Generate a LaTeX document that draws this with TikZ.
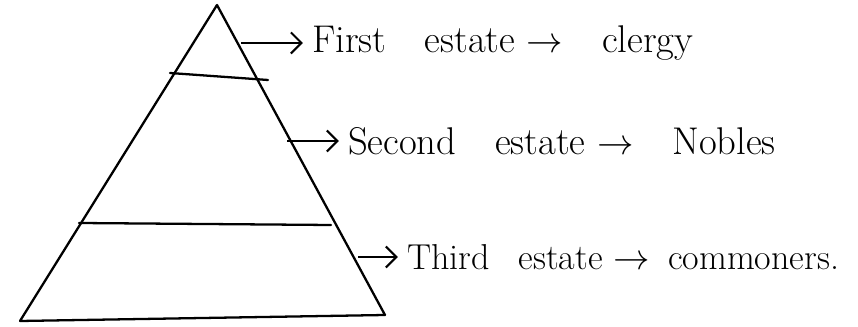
\documentclass[tikz,border=0pt]{standalone}
\usepackage{tikz}
\usetikzlibrary{positioning, calc, arrows.meta}

\begin{document}
\begin{tikzpicture}[x=0.02cm, y=-0.02cm,
  every node/.style={font=\fontsize{22}{26}\selectfont},
  edge/.style={line width=1.3pt, line join=round, line cap=round},
  pointer/.style={line width=1.2pt, shorten >=4pt, -{Straight Barb[length=6pt, width=12pt]}},
  estate/.style={anchor=west, inner sep=1pt}]
  \useasboundingbox (0,0) rectangle (858,327);
  \coordinate (apex) at (217, 5);
  \coordinate (bl) at (20, 321);
  \coordinate (br) at (385, 315);
  \draw[edge] (apex) -- (bl) -- (br) -- cycle;
  \draw[edge] (170, 73) -- (268, 80);
  \draw[edge] (79, 223) -- (331, 225);
  \coordinate (p1) at (241, 43);
  \coordinate (p2) at (287, 141);
  \coordinate (p3) at (358, 257);
  \node[estate] (first) at (310, 43) {First\quad estate $\rightarrow$\quad clergy};
  \node[estate] (second) at (346, 141) {Second\quad estate $\rightarrow$\quad Nobles};
  \node[estate, font=\fontsize{20.5}{24}\selectfont] (third) at (405, 257) {Third\enspace\ estate $\rightarrow$\enspace commoners.};
  \draw[pointer] (p1) -- (p1 -| first.west);
  \draw[pointer] (p2) -- (p2 -| second.west);
  \draw[pointer] (p3) -- (p3 -| third.west);
\end{tikzpicture}
\end{document}
